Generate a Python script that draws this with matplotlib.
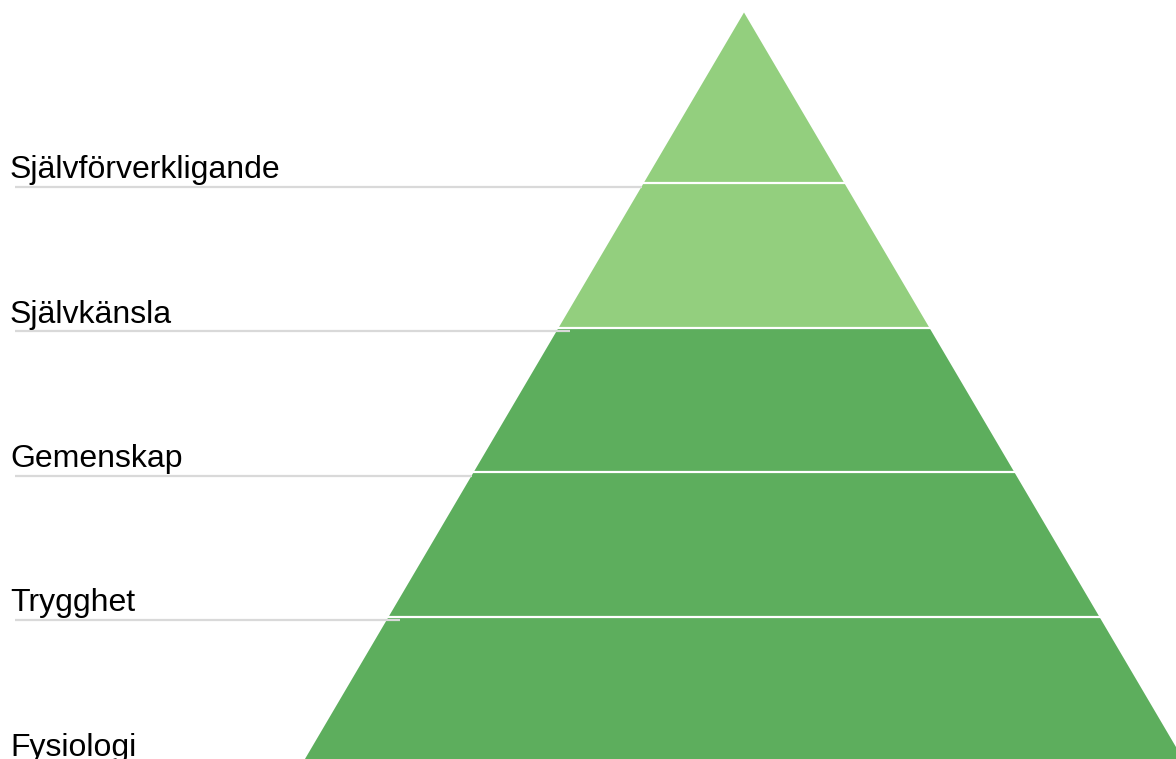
import matplotlib
matplotlib.use("Agg")
import matplotlib.pyplot as plt
from matplotlib.patches import Polygon

plt.rcParams['font.family'] = ['Liberation Sans', 'DejaVu Sans']

# Levels from top to bottom
labels = ["Självförverkligande", "Självkänsla", "Gemenskap", "Trygghet", "Fysiologi"]
heights = [1.18, 1.0, 1.0, 1.0, 1.0]
colors = ["#93CF7E", "#93CF7E", "#5DAE5D", "#5DAE5D", "#5DAE5D"]

W, Hpx = 1176, 759
fig = plt.figure(figsize=(W / 100, Hpx / 100), dpi=100)
ax = fig.add_axes([0, 0, 1, 1])
ax.set_axis_off()

total = sum(heights)
py = 144.5   # pixels per y unit
px = 440.2   # pixels per x unit (half base width)
ax.set_xlim(-744 / px, (W - 744) / px)
ax.set_ylim(2 / py, 761 / py)

def half_width(y):
    return 1.0 * (1 - y / total)

tops = []
acc = total
for h in heights:
    tops.append(acc)
    acc -= h
bottoms = [t - h for t, h in zip(tops, heights)]

for lab, top, bot, col in zip(labels, tops, bottoms, colors):
    wt, wb = half_width(top), half_width(bot)
    poly = Polygon([(-wb, bot), (wb, bot), (wt, top), (-wt, top)],
                   closed=True, facecolor=col, edgecolor='none', zorder=2)
    ax.add_patch(poly)

# white separators
for bot in bottoms[:-1]:
    w = half_width(bot)
    ax.plot([-w - 0.05, w + 0.05], [bot, bot], color='white', lw=1.6,
            zorder=3, solid_capstyle='butt')

# connectors + labels
extra = [0.0, 13, 0.0, 13, 0.0]
for lab, bot, ex in zip(labels, bottoms, extra):
    yl = bot - 3.5 / py
    w = half_width(yl)
    x0 = -744 / px + 15 / px
    x1 = -w + ex / px
    ax.plot([x0, x1], [yl, yl], color='#D9D9D9', lw=1.6, zorder=3,
            solid_capstyle='butt')
    ax.text(-744 / px + 10 / px, yl + 8.5 / py, lab, fontsize=23,
            color='#000000', ha='left', va='baseline', zorder=4)

fig.savefig("out.png", dpi=100)
